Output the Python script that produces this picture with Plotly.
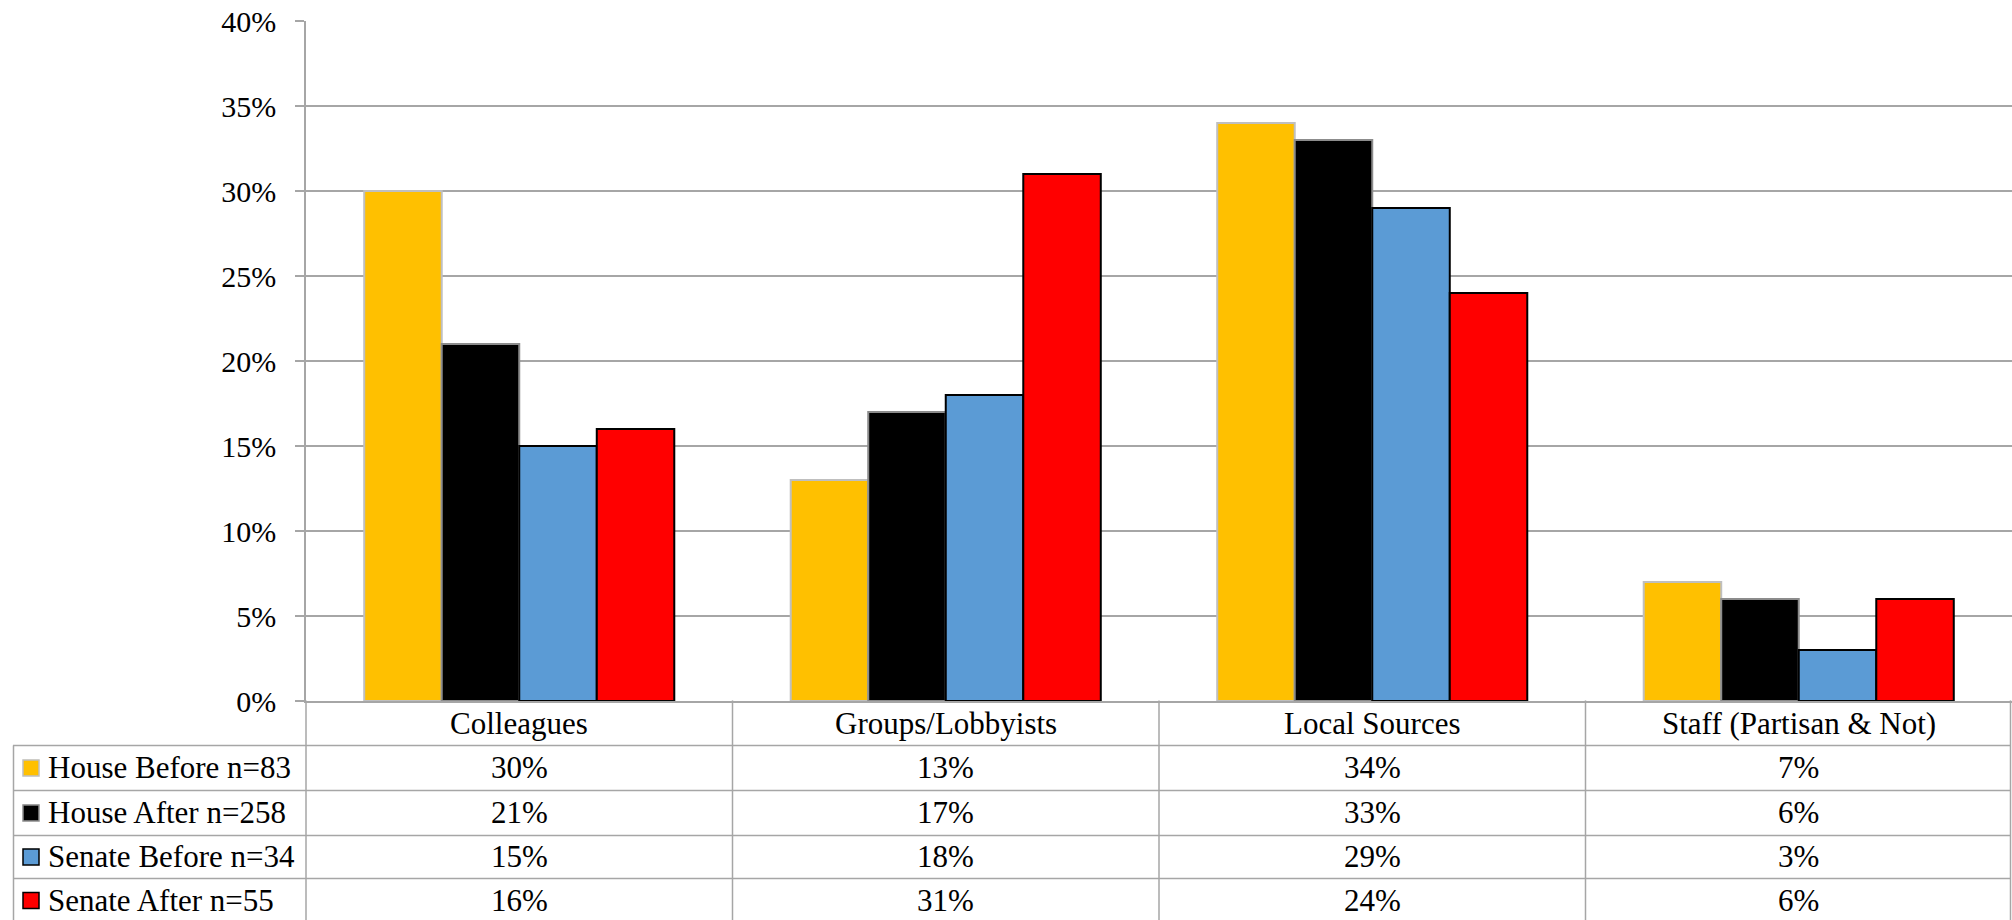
import plotly.graph_objects as go

categories = ["Colleagues", "Groups/Lobbyists", "Local Sources", "Staff (Partisan & Not)"]
series_names = ["House Before n=83", "House After n=258", "Senate Before n=34", "Senate After n=55"]
house_before = [0.30, 0.13, 0.34, 0.07]
house_after = [0.21, 0.17, 0.33, 0.06]
senate_before = [0.15, 0.18, 0.29, 0.03]
senate_after = [0.16, 0.31, 0.24, 0.06]
series_values = [house_before, house_after, senate_before, senate_after]
fill_colors = ["#FFC000", "#000000", "#5B9BD5", "#FF0000"]
line_colors = ["#BFBFBF", "#8C8C8C", "#000000", "#000000"]

W, H = 2012, 920
L, R, T, B = 306, 0, 20.6, 700.6  # plot area pixel edges (B = pixel y of 0%)
PW = W - L - R
PH = B - T

FONT = "Liberation Serif, Times New Roman"
FS = 31
TFS = 30
GRID = "#A6A6A6"


def px(x):
    return (x - L) / PW


def py(y):
    return (B - y) / PH


fig = go.Figure()
for name, vals, fc, lc in zip(series_names, series_values, fill_colors, line_colors):
    fig.add_trace(go.Bar(
        x=categories, y=vals, name=name,
        marker=dict(color=fc, line=dict(color=lc, width=2)),
        showlegend=False,
    ))

shapes = []
annotations = []

# table grid
row_lines = [745, 790, 835, 878, 922]
for yl in row_lines:
    shapes.append(dict(type="line", xref="paper", yref="paper",
                       x0=px(13), x1=px(2011), y0=py(yl), y1=py(yl),
                       line=dict(color=GRID, width=1.5)))
# left border of legend column
shapes.append(dict(type="line", xref="paper", yref="paper",
                   x0=px(13.5), x1=px(13.5), y0=py(745), y1=py(925),
                   line=dict(color=GRID, width=1.5)))
# axis extension through table
shapes.append(dict(type="line", xref="paper", yref="paper",
                   x0=0, x1=0, y0=py(700), y1=py(925),
                   line=dict(color=GRID, width=1.5)))
# column separators
ncat = len(categories)
for i in range(1, ncat + 1):
    xx = i / ncat if i < ncat else px(2010.5)
    shapes.append(dict(type="line", xref="paper", yref="paper",
                       x0=xx, x1=xx, y0=py(700), y1=py(925),
                       line=dict(color=GRID, width=1.5)))

# header row: category names
for c in categories:
    annotations.append(dict(x=c, xref="x", y=py(723), yref="paper",
                            text=c, showarrow=False, xanchor="center", yanchor="middle",
                            font=dict(family=FONT, size=FS, color="black")))

# value rows + legend keys
for r, (name, vals, fc, lc) in enumerate(zip(series_names, series_values, fill_colors, line_colors)):
    top, bot = row_lines[r], row_lines[r + 1]
    cy = (top + bot) / 2
    for c, v in zip(categories, vals):
        annotations.append(dict(x=c, xref="x", y=py(cy), yref="paper",
                                text=f"{round(v * 100)}%", showarrow=False,
                                xanchor="center", yanchor="middle",
                                font=dict(family=FONT, size=FS, color="black")))
    shapes.append(dict(type="rect", xref="paper", yref="paper",
                       x0=px(23), x1=px(39), y0=py(cy - 8), y1=py(cy + 8),
                       fillcolor=fc, line=dict(color=lc, width=1.5)))
    annotations.append(dict(x=px(46), xref="paper", y=py(cy), yref="paper",
                            text=name, showarrow=False, xanchor="left", yanchor="middle",
                            font=dict(family=FONT, size=FS, color="black")))

fig.update_layout(
    width=W, height=H,
    margin=dict(l=L, r=R, t=T, b=H - B, pad=0),
    paper_bgcolor="white", plot_bgcolor="white",
    barmode="group", bargap=0.273, bargroupgap=0,
    font=dict(family=FONT, size=FS, color="black"),
    shapes=shapes, annotations=annotations,
)
fig.update_yaxes(
    range=[0, 0.4], dtick=0.05, tickformat=".0%",
    showgrid=True, gridcolor=GRID, gridwidth=1.5,
    showline=True, linecolor=GRID, linewidth=1.5,
    ticks="outside", ticklen=9, tickcolor=GRID, tickwidth=1.5,
    ticklabelstandoff=13,
    tickfont=dict(family=FONT, size=TFS, color="black"),
    zeroline=False,
)
fig.update_xaxes(
    showticklabels=False, showgrid=False, zeroline=False,
    showline=True, linecolor=GRID, linewidth=1.5, ticks="",
)

fig.write_html("out.html")
